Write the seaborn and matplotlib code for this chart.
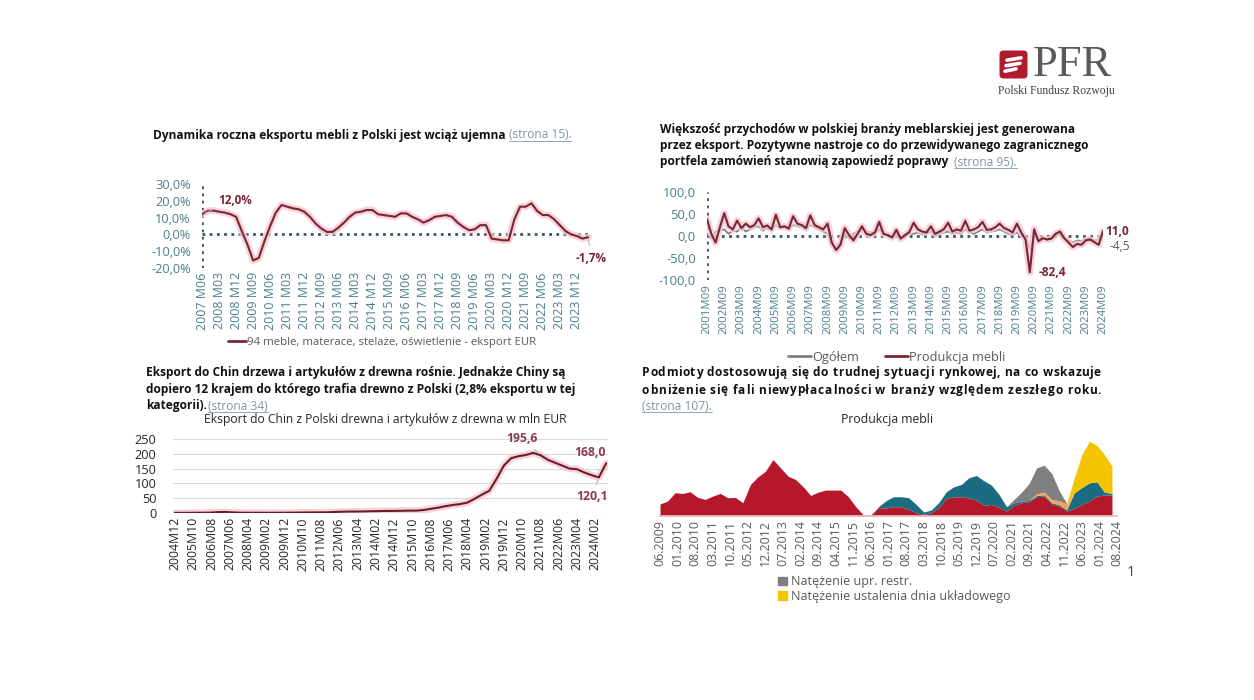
import numpy as np
import matplotlib
matplotlib.use("Agg")
import matplotlib.pyplot as plt
import matplotlib.patheffects as pe
from matplotlib.lines import Line2D
from matplotlib.patches import FancyBboxPatch, Patch
import seaborn as sns

W, H = 1254, 700

# ---------------- data ----------------
# panel 1: annual dynamics of furniture export (quarterly readings from 2007 M06)
p1_ticks = ["2007 M06", "2008 M03", "2008 M12", "2009 M09", "2010 M06", "2011 M03",
            "2011 M12", "2012 M09", "2013 M06", "2014 M03", "2014 M12", "2015 M09",
            "2016 M06", "2017 M03", "2017 M12", "2018 M09", "2019 M06", "2020 M03",
            "2020 M12", "2021 M09", "2022 M06", "2023 M03", "2023 M12"]
p1_values = [12.0, 14.0, 14.2, 13.5, 13.0, 12.0, 10.5, 2.0, -6.0, -15.5,
             -14.0, -4.0, 5.0, 13.0, 17.5, 16.5, 15.5, 15.0, 13.5, 10.5,
             6.5, 3.5, 1.5, 1.5, 4.0, 7.0, 10.5, 13.0, 13.5, 14.5,
             14.5, 12.0, 11.5, 11.0, 10.5, 12.5, 12.5, 10.5, 9.0, 7.0,
             8.5, 10.5, 11.0, 11.5, 10.5, 7.0, 4.5, 2.5, 3.0, 5.5,
             5.5, -2.5, -3.0, -3.5, -3.5, 9.0, 16.5, 16.5, 18.5, 14.0,
             11.5, 11.5, 9.0, 5.5, 2.0, 0.0, -1.0, -2.5, -1.7]
p1_legend = "94 meble, materace, stelaże, oświetlenie - eksport EUR"

# panel 2: business sentiment, foreign orders (quarterly readings from 2001M09)
p2_ticks = [f"{y}M09" for y in range(2001, 2025)]
p2_furniture = [38, 5, -15, 20, 52, 22, 15, 35, 18, 28,
                20, 25, 40, 20, 24, 15, 48, 20, 22, 17,
                45, 28, 25, 18, 47, 25, 20, 15, 28, -15,
                -32, -20, 18, 2, -10, 5, 22, 5, 2, 8,
                32, 5, 2, -3, 14, -6, 2, 9, 30, 15,
                10, 8, 22, 5, 10, 15, 30, 10, 15, 12,
                34, 12, 15, 20, 32, 14, 15, 20, 28, 18,
                14, 8, 28, 8, -8, -82.4, 15, -12, -5, -8,
                -6, 5, 10, -5, -15, -25, -18, -20, -10, -8,
                -14, -20, 11.0]
p2_total = [5, -5, 10, 12, 15, 5, 12, 10, 20, 10,
            15, 20, 22, 12, 18, 15, 25, 18, 20, 15,
            25, 22, 20, 15, 25, 20, 15, 10, 5, -20,
            -25, -15, 5, -5, 5, 10, 15, 10, 8, 5,
            15, 5, 0, -5, 5, -5, 0, 5, 5, 8,
            3, 5, 10, 0, 5, 8, 10, 5, 8, 5,
            15, 8, 5, 10, 15, 8, 10, 12, 15, 10,
            5, 2, 8, 0, -5, -30, 0, -10, -5, -8,
            -5, 0, 5, -5, -10, -15, -10, -12, -5, -5,
            -10, -8, -4.5]
p2_labels = ["Ogółem", "Produkcja mebli"]

# panel 3: export of wood to China, mln EUR (every 4 months from 2004M12)
p3_ticks = ["2004M12", "2005M10", "2006M08", "2007M06", "2008M04", "2009M02",
            "2009M12", "2010M10", "2011M08", "2012M06", "2013M04", "2014M02",
            "2014M12", "2015M10", "2016M08", "2017M06", "2018M04", "2019M02",
            "2019M12", "2020M10", "2021M08", "2022M06", "2023M04", "2024M02"]
p3_values = [0.5, 0.5, 0.5, 0.8, 1.0, 1.5, 3.0, 3.5, 2.0, 1.0,
             0.8, 0.8, 0.8, 0.7, 0.8, 1.0, 1.2, 1.5, 1.8, 2.0,
             2.2, 2.5, 3.5, 4.5, 5.0, 5.0, 5.5, 6.0, 6.5, 7.0,
             7.0, 7.5, 8.0, 8.0, 10.0, 14.0, 18.0, 23.0, 27.0, 30.0,
             35.0, 48.0, 62.0, 75.0, 115.0, 160.0, 185.0, 192.0, 196.0, 203.0,
             195.6, 180.0, 170.0, 160.0, 150.0, 148.0, 137.0, 128.0, 120.1, 168.0]

# panel 4: insolvency intensity, furniture production (quarterly from 06.2009)
p4_ticks = ["06.2009", "01.2010", "08.2010", "03.2011", "10.2011", "05.2012",
            "12.2012", "07.2013", "02.2014", "09.2014", "04.2015", "11.2015",
            "06.2016", "01.2017", "08.2017", "03.2018", "10.2018", "05.2019",
            "12.2019", "07.2020", "02.2021", "09.2021", "04.2022", "11.2022",
            "06.2023", "01.2024", "08.2024"]
p4_red = [36, 45, 70, 68, 73, 56, 50, 60, 68, 55,
          56, 40, 95, 118, 135, 170, 145, 120, 110, 88,
          62, 72, 78, 78, 78, 58, 28, 3, 3, 25,
          24, 28, 28, 20, 10, 5, 10, 25, 53, 58,
          58, 54, 48, 32, 35, 26, 15, 32, 40, 43,
          58, 60, 36, 30, 15, 23, 35, 45, 60, 63, 63]
p4_teal = [0] * 29 + [3, 22, 30, 30, 35, 25, 7, 8, 15, 20,
                      30, 37, 61, 74, 74, 58, 39, 13, 8, 5,
                      4, 4, 4, 4, 4, 4, 47, 51, 55, 43, 9, 5]
p4_orange = [0] * 50 + [5, 8, 10, 12, 18, 0, 0, 0, 0, 0, 0]
p4_gray = [0] * 47 + [10, 27, 51, 78, 81, 78, 30, 0, 0, 0, 0, 0, 0, 0]
p4_yellow = [0] * 54 + [1, 45, 99, 125, 110, 113, 82]
p4_legend = ["Natężenie upr. restr.", "Natężenie ustalenia dnia układowego"]

# ---------------- style ----------------
sns.set_theme(style="white")
plt.rcParams["font.family"] = ["Open Sans", "DejaVu Sans"]

MAROON = "#7a2535"
TEAL_TXT = "#4a7f8e"
DOT = "#3a5563"
HEAD = 8.6
glow = [pe.Stroke(linewidth=5, foreground="#f3c9cf", alpha=0.8), pe.Normal()]

fig = plt.figure(figsize=(W / 100, H / 100), dpi=100)
fig.patch.set_facecolor("white")
renderer = fig.canvas.get_renderer()


def fx(px):
    return px / W


def fy(py):
    return 1 - py / H


def box(l, t, r, b):
    return fig.add_axes([fx(l), fy(b), (r - l) / W, (b - t) / H])


def months(y, m, y0, m0):
    return (y - y0) * 12 + (m - m0)


def link(text, x, y, size=HEAD):
    t = fig.text(fx(x), fy(y), text, fontsize=size, color="#7f95a3", va="center")
    bb = t.get_window_extent(renderer)
    fig.add_artist(Line2D([bb.x0 / W, bb.x1 / W], [bb.y0 / H + 0.001] * 2,
                          color="#7f95a3", lw=0.6, transform=fig.transFigure))


def bold(text, x, y, size=HEAD):
    t = fig.text(fx(x), fy(y), text, fontsize=size, fontweight="bold",
                 color="#111111", va="center")
    return t.get_window_extent(renderer).x1


def text_w(s, size):
    t = fig.text(0, 0, s, fontsize=size, fontweight="bold")
    w = t.get_window_extent(renderer).width
    t.remove()
    return w


def justified(text, x0, x1, y, size=HEAD):
    # spread the extra room evenly between all characters (distributed alignment)
    extra = (x1 - x0 - text_w(text, size)) / (len(text) - 1)
    for i, ch in enumerate(text):
        if ch == " ":
            continue
        xi = x0 + (text_w(text[:i] + "|", size) - text_w("|", size) if i else 0) + i * extra
        fig.text(fx(xi), fy(y), ch, fontsize=size, fontweight="bold",
                 color="#111111", va="center")


def clean(ax):
    for s in ax.spines.values():
        s.set_visible(False)
    ax.tick_params(length=0)
    ax.set_xlabel("")
    ax.set_ylabel("")


def dotted(ax, xs, ys):
    ax.plot(xs, ys, ls=(0, (1, 1.6)), color=DOT, lw=2.0, zorder=1)


# ---------------- panel 1 ----------------
ax1 = box(202, 184, 592, 268)
x1 = np.arange(len(p1_values)) * 3
sns.lineplot(x=x1, y=p1_values, ax=ax1, color=MAROON, lw=1.5)
ax1.lines[-1].set_path_effects(glow)
ax1.set_xlim(0, 206)
ax1.set_ylim(-20, 30)
dotted(ax1, [0, 206], [0, 0])
dotted(ax1, [0, 0], [-20, 30])
clean(ax1)
yt = [-20, -10, 0, 10, 20, 30]
ax1.set_yticks(yt, [f"{v:.1f}%".replace(".", ",") for v in yt],
               color=TEAL_TXT, fontsize=9.2)
ax1.set_xticks([months(int(s[:4]), int(s[-2:]), 2007, 6) for s in p1_ticks], p1_ticks,
               rotation=90, color=TEAL_TXT, fontsize=9)
ax1.tick_params(axis="y", pad=8)
ax1.tick_params(axis="x", pad=3)
ax1.annotate("12,0%", xy=(x1[0], p1_values[0]), xytext=(12, 10), textcoords="offset points",
             fontsize=8.4, fontweight="bold", color=MAROON, va="center",
             arrowprops=dict(arrowstyle="-", color="#b0b0b0", lw=0.7))
ax1.annotate("-1,7%", xy=(x1[-1], p1_values[-1]), xytext=(2, -15), textcoords="offset points",
             fontsize=8.4, fontweight="bold", color=MAROON, ha="center", va="center",
             arrowprops=dict(arrowstyle="-", color="#b0b0b0", lw=0.7))
fig.legend(handles=[Line2D([], [], color=MAROON, lw=2)], labels=[p1_legend],
           loc="center", bbox_to_anchor=(fx(382), fy(342)), frameon=False,
           fontsize=8.2, labelcolor="#595959", handlelength=1.6, handletextpad=0.1)

x_end = bold("Dynamika roczna eksportu mebli z Polski jest wciąż ujemna", 153, 135)
link("(strona 15).", x_end + 3, 135)

# ---------------- panel 2 ----------------
ax2 = box(707, 192, 1103, 280)
x2 = np.arange(len(p2_furniture)) * 3
sns.lineplot(x=x2, y=p2_total, ax=ax2, color="#7f7f7f", lw=1.3)
sns.lineplot(x=x2, y=p2_furniture, ax=ax2, color=MAROON, lw=1.5)
ax2.lines[-1].set_path_effects(glow)
ax2.set_xlim(0, 276)
ax2.set_ylim(-100, 100)
dotted(ax2, [0, 276], [0, 0])
dotted(ax2, [0, 0], [-100, 100])
clean(ax2)
yt = [-100, -50, 0, 50, 100]
ax2.set_yticks(yt, [f"{v:.1f}".replace(".", ",") for v in yt], color=TEAL_TXT, fontsize=9.4)
ax2.set_xticks([months(int(s[:4]), 9, 2001, 9) for s in p2_ticks], p2_ticks,
               rotation=90, color=TEAL_TXT, fontsize=8.2)
ax2.tick_params(axis="y", pad=8)
ax2.tick_params(axis="x", pad=3)
ax2.annotate("11,0", xy=(x2[-1], p2_furniture[-1]), xytext=(2, 0), textcoords="offset points",
             fontsize=8.6, fontweight="bold", color=MAROON, va="center")
ax2.annotate("-4,5", xy=(x2[-1], p2_total[-1]), xytext=(5, -6), textcoords="offset points",
             fontsize=8.6, color="#595959", va="center")
imin = int(np.argmin(p2_furniture))
ax2.annotate("-82,4", xy=(x2[imin], p2_furniture[imin]), xytext=(6, 0), textcoords="offset points",
             fontsize=8.6, fontweight="bold", color=MAROON, va="center")
fig.legend(handles=[Line2D([], [], color="#7f7f7f", lw=2), Line2D([], [], color=MAROON, lw=2)],
           labels=p2_labels, loc="center", bbox_to_anchor=(fx(897), fy(357)), frameon=False,
           ncol=2, fontsize=9.2, labelcolor="#595959", handlelength=1.8, handletextpad=0.1,
           columnspacing=2.0)

bold("Większość przychodów w polskiej branży meblarskiej jest generowana", 660, 130)
bold("przez eksport. Pozytywne nastroje co do przewidywanego zagranicznego", 660, 146)
x_end = bold("portfela zamówień stanowią zapowiedź poprawy", 660, 162)
link("(strona 95).", x_end + 6, 162)

# ---------------- panel 3 ----------------
ax3 = box(173, 439, 608, 513)
x3 = np.arange(len(p3_values)) * 4
sns.lineplot(x=x3, y=p3_values, ax=ax3, color="#6e1c2b", lw=1.5)
ax3.lines[-1].set_path_effects(glow)
ax3.set_xlim(-1, 237)
ax3.set_ylim(0, 250)
clean(ax3)
ax3.set_yticks(range(0, 251, 50), [str(v) for v in range(0, 251, 50)],
               color="#262626", fontsize=9.2)
for v in range(0, 251, 50):
    ax3.axhline(v, color="#d9d9d9", lw=0.8, zorder=0)
ax3.set_xticks([months(int(s[:4]), int(s[-2:]), 2004, 12) for s in p3_ticks], p3_ticks,
               rotation=90, color="#262626", fontsize=8.8)
ax3.tick_params(axis="y", pad=12)
ax3.tick_params(axis="x", pad=3)
LBL3 = "#8c3b50"
ipk = p3_values.index(195.6)
ax3.annotate("195,6", xy=(x3[ipk], p3_values[ipk]), xytext=(-13, 12), textcoords="offset points",
             fontsize=8.8, fontweight="bold", color=LBL3, ha="center", va="center",
             arrowprops=dict(arrowstyle="-", color="#b0b0b0", lw=0.7))
ax3.annotate("168,0", xy=(x3[-1], p3_values[-1]), xytext=(-12, 8), textcoords="offset points",
             fontsize=8.8, fontweight="bold", color=LBL3, ha="center", va="center")
ax3.annotate("120,1", xy=(x3[-2], p3_values[-2]), xytext=(-5, -14), textcoords="offset points",
             fontsize=8.8, fontweight="bold", color=LBL3, ha="center", va="center",
             arrowprops=dict(arrowstyle="-", color="#b0b0b0", lw=0.7))
fig.text(fx(385), fy(419), "Eksport do Chin z Polski drewna i artykułów z drewna w mln EUR",
         fontsize=8.7, color="#262626", ha="center", va="center")

bold("Eksport do Chin drzewa i artykułów z drewna rośnie. Jednakże Chiny są", 146, 373)
bold("dopiero 12 krajem do którego trafia drewno z Polski (2,8% eksportu w tej", 146, 390)
x_end = bold("kategorii).", 146, 406)
link("(strona 34)", x_end + 1, 406)

# ---------------- panel 4 ----------------
ax4 = box(660, 433, 1117, 516)
x4 = np.arange(len(p4_red)) * 3
ax4.stackplot(x4, p4_red, p4_teal, p4_orange, p4_gray, p4_yellow,
              colors=["#b5182b", "#1b6c80", "#f5a55a", "#808080", "#f5c400"], lw=0)
ax4.set_xlim(0, 182)
ax4.set_ylim(0, 250)
clean(ax4)
ax4.spines["bottom"].set_visible(True)
ax4.spines["bottom"].set_color("#e8c4c8")
ax4.set_yticks([])
ax4.set_xticks([months(int(s[-4:]), int(s[:2]), 2009, 6) for s in p4_ticks], p4_ticks,
               rotation=90, color="#595959", fontsize=8.9)
ax4.tick_params(axis="x", pad=3)
fig.text(fx(887), fy(419), "Produkcja mebli", fontsize=8.8, color="#262626", ha="center", va="center")
fig.legend(handles=[Patch(color="#808080"), Patch(color="#f5c400")], labels=p4_legend,
           loc="upper left", bbox_to_anchor=(fx(772), fy(569)), frameon=False,
           fontsize=9, labelcolor="#595959", handlelength=0.7, handleheight=0.7,
           handletextpad=0.3, labelspacing=0.15, borderpad=0)
fig.text(fx(1131), fy(573), "1", fontsize=10.5, color="#404040", ha="center", va="center")

justified("Podmioty dostosowują się do trudnej sytuacji rynkowej, na co wskazuje", 642, 1101, 373)
justified("obniżenie się fali niewypłacalności w branży względem zeszłego roku.", 642, 1101, 390)
link("(strona 107).", 642, 406)

# ---------------- logo ----------------
lg = box(999, 50, 1028, 79)
lg.set_axis_off()
lg.set_xlim(0, 29)
lg.set_ylim(29, 0)
lg.add_patch(FancyBboxPatch((0.5, 0.5), 28, 28, boxstyle="round,pad=0,rounding_size=4",
                            fc="#b01c2e", ec="none"))
for yy, x0, x1e in [(9, 8, 22), (14.5, 7, 21), (20, 6, 17)]:
    lg.plot([x0, x1e], [yy + 1.2, yy - 1.2], color="white", lw=2.6, solid_capstyle="round")
fig.text(fx(1033), fy(65), "PFR", fontsize=32, color="#5a5a5a", va="center",
         family="Liberation Serif")
fig.text(fx(998), fy(91), "Polski Fundusz Rozwoju", fontsize=8.4, color="#404040",
         va="center", family="Liberation Serif")

fig.savefig("out.png", dpi=100, facecolor="white")
